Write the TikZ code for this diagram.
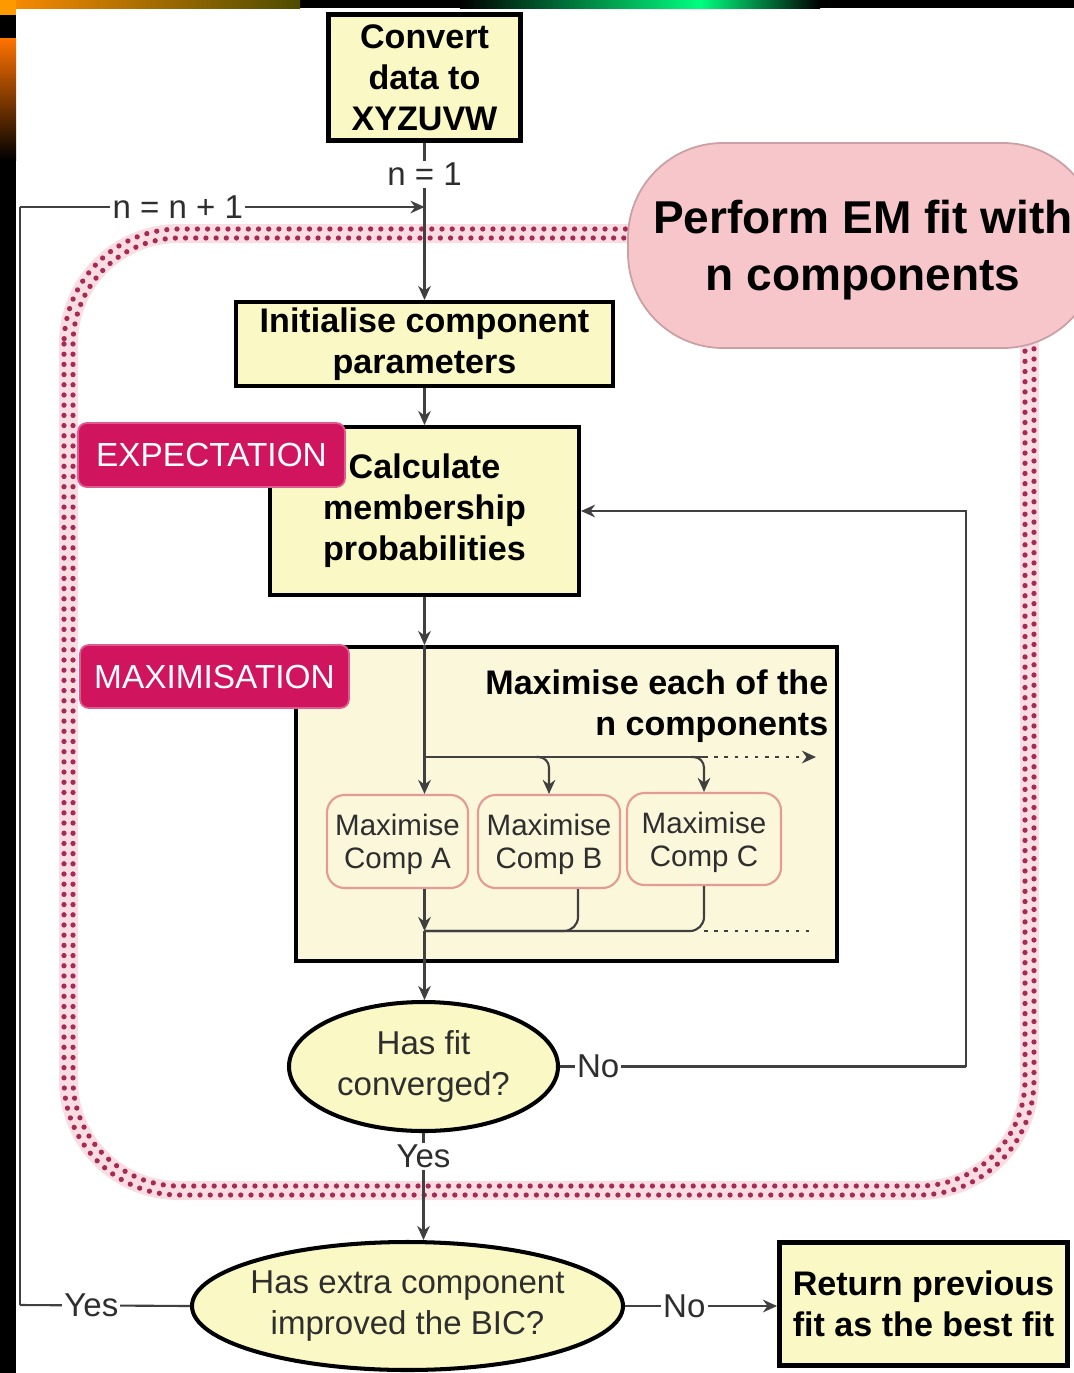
\documentclass[tikz,border=0pt]{standalone}
\usepackage{fontspec}
\setmainfont{Liberation Sans}
\usepackage{xcolor}
\usepackage{tikz}
\usetikzlibrary{shapes.geometric, arrows.meta, positioning, calc}
\definecolor{boxyellow}{HTML}{FAF8C4}
\definecolor{maxcream}{HTML}{FBF7DA}
\definecolor{empink}{HTML}{F6C6CA}
\definecolor{emedge}{HTML}{C9A0A4}
\definecolor{tagred}{HTML}{D1145E}
\definecolor{dotred}{HTML}{A52A55}
\definecolor{pinkband}{HTML}{FADDE3}
\definecolor{compred}{HTML}{E49A96}
\definecolor{linegrey}{HTML}{404040}
\definecolor{darktext}{HTML}{2E2E2E}
\newcommand{\boxtxt}{\fontsize{9.7}{11.7}\selectfont\bfseries}
\newcommand{\regtxt}{\fontsize{9.4}{11.6}\selectfont}
\newcommand{\comptxt}{\fontsize{8.4}{9.5}\selectfont}
\newcommand{\tagtxt}{\fontsize{9.5}{11}\selectfont}
\newcommand{\emtxt}{\fontsize{13.1}{16.2}\selectfont\bfseries}

\begin{document}
\begin{tikzpicture}[>=Stealth,
    box/.style={rectangle, draw=black, line width=1.15pt, fill=boxyellow,
      align=center, font=\boxtxt, inner sep=0pt},
    tag/.style={rectangle, rounded corners=2.5pt, fill=tagred, draw=tagred!70!white,
      line width=0.5pt, text=white, font=\tagtxt, inner sep=0pt},
    comp/.style={rectangle, rounded corners=5pt, draw=compred, line width=0.6pt,
      fill=maxcream, align=center, font=\comptxt, text=darktext, inner sep=0pt, text depth=0pt},
    dec/.style={ellipse, draw=black, line width=1.15pt, fill=boxyellow,
      align=center, font=\regtxt, text=darktext, inner sep=0pt},
    link/.style={draw=linegrey, line width=0.6pt},
    arr/.style={link, -{Stealth[length=4pt, width=3.6pt]}},
    lbl/.style={fill=white, inner sep=0.6pt, font=\regtxt, text=darktext},
    dots/.style={draw=dotred, line width=1.5pt, line cap=round, dash pattern=on 0pt off 2.9pt},
  ]
    \useasboundingbox (0,0) rectangle (10.74,-13.73);
    \clip (0,0) rectangle (10.74,-13.73);

    % frame of the slide
    \fill[black] (0,0) rectangle (10.74,-13.73);
    \fill[white] (0.16,-0.08) rectangle (10.74,-13.73);
    \shade[left color=orange!90!yellow, right color=olive!60!black] (0,0) rectangle (3.0,-0.08);
    \shade[left color=black, right color=green!50!cyan] (4.6,0) rectangle (7.0,-0.08);
    \shade[left color=green!50!cyan, right color=black] (7.0,0) rectangle (8.2,-0.08);
    \fill[orange!80!yellow] (0,0) rectangle (0.16,-0.15);
    \shade[top color=orange!90!red, bottom color=black] (0,-0.38) rectangle (0.16,-1.6);

    % EM loop boundary
    \draw[pinkband, line width=5.4pt, rounded corners=1.1cm] (0.685,-2.335) rectangle (10.295,-11.905);
    \draw[dots, rounded corners=1.15cm] (0.64,-2.29) rectangle (10.34,-11.95);
    \draw[dots, rounded corners=1.06cm] (0.73,-2.38) rectangle (10.25,-11.86);
    \node[rectangle, rounded corners=0.95cm, fill=empink, draw=emedge, line width=0.5pt,
      minimum width=4.70cm, minimum height=2.05cm, align=center, font=\emtxt, text depth=0pt]
      (emfit) at (8.63,-2.455) {Perform EM fit with\\n components};

    % setup
    \node[box, line width=1.4pt, minimum width=1.92cm, minimum height=1.26cm] (convert) at (4.245,-0.775) {Convert\\data to\\XYZUVW};
    \node[box, minimum width=3.77cm, minimum height=0.84cm] (init) at (4.245,-3.44) {Initialise component\\parameters};

    % E step
    \node[box, minimum width=3.09cm, minimum height=1.68cm] (calc) at (4.245,-5.11) {Calculate\\membership\\probabilities};
    \node[tag, minimum width=2.67cm, minimum height=0.64cm] (etag) at (2.115,-4.55) {EXPECTATION};

    % M step
    \node[box, fill=maxcream, minimum width=5.41cm, minimum height=3.14cm] (max) at (5.665,-8.04) {};
    \node[tag, minimum width=2.69cm, minimum height=0.63cm] (mtag) at (2.145,-6.765) {MAXIMISATION};
    \node[anchor=east, align=right, font=\boxtxt, inner sep=0pt] (maxtxt) at (8.29,-7.06) {Maximise each of the\\n components};
    \node[comp, minimum width=1.41cm, minimum height=0.93cm] (compA) at (3.975,-8.415) {Maximise\\Comp A};
    \node[comp, minimum width=1.42cm, minimum height=0.93cm] (compB) at (5.49,-8.415) {Maximise\\Comp B};
    \node[comp, minimum width=1.54cm, minimum height=0.92cm] (compC) at (7.04,-8.39) {Maximise\\Comp C};

    % tests
    \node[dec, minimum width=2.69cm, minimum height=1.29cm] (conv) at (4.235,-10.665) {Has fit\\converged?};
    \node[dec, inner xsep=-0.1cm, minimum width=4.31cm, minimum height=1.28cm] (bic) at (4.075,-13.06) {Has extra component\\improved the BIC?};
    \node[box, line width=1.4pt, minimum width=2.88cm, minimum height=1.23cm] (ret) at (9.235,-13.04) {Return previous\\fit as the best fit};

    \coordinate (join)    at (4.245,-2.07);
    \coordinate (looptop) at (0.20,-2.07);
    \coordinate (loopbot) at (0.20,-13.05);
    \coordinate (fork)    at (4.245,-7.57);
    \coordinate (merge)   at (4.245,-9.31);
    \coordinate (noturn)  at (9.66,-10.665);

    \draw[arr] (convert) -- node[lbl, pos=0.2]{n = 1} (init);
    \draw[arr] (looptop) -- node[lbl, pos=0.39]{n = n + 1} (join);
    \draw[arr] (init) -- (calc);
    \draw[arr] (calc) -- (calc.south |- max.north);
    \draw[arr] (calc.south |- max.north) -- (calc.south |- compA.north);

    % fan out / fan in of the components
    \draw[link] (fork) -- (fork -| compC.north);
    \draw[arr, rounded corners=3pt] ($(fork -| compB.north)+(-0.13,0)$) -| (compB.north);
    \draw[arr, rounded corners=3pt] ($(fork -| compC.north)+(-0.13,0)$) -| (compC.north);
    \draw[arr, dash pattern=on 1pt off 1.9pt] (fork -| compC.north) -- ++(1.12,0);
    \draw[arr] (calc.south |- compA.south) -- (merge);
    \draw[link, rounded corners=4pt] ($(compB.south)+(0.29,0)$) |- (merge);
    \draw[link, rounded corners=4pt] (compC.south) |- (merge);
    \draw[link, dash pattern=on 1pt off 1.9pt] (compC.south |- merge) -- ++(1.12,0);
    \draw[arr] (merge) -- (merge |- conv.north);

    \draw[link] (conv.east) -- node[lbl, pos=0.094]{No} (noturn);
    \draw[arr] (noturn) |- (calc.east);
    \draw[arr] (conv.south) -- node[lbl, pos=0.22]{Yes} (conv.south |- bic.north);
    \draw[link] (bic.west) -- node[lbl, pos=0.58]{Yes} (loopbot);
    \draw[link] (loopbot) -- (looptop);
    \draw[arr] (bic.east) -- node[lbl, pos=0.39]{No} (bic.east -| ret.west);
  \end{tikzpicture}
\end{document}
